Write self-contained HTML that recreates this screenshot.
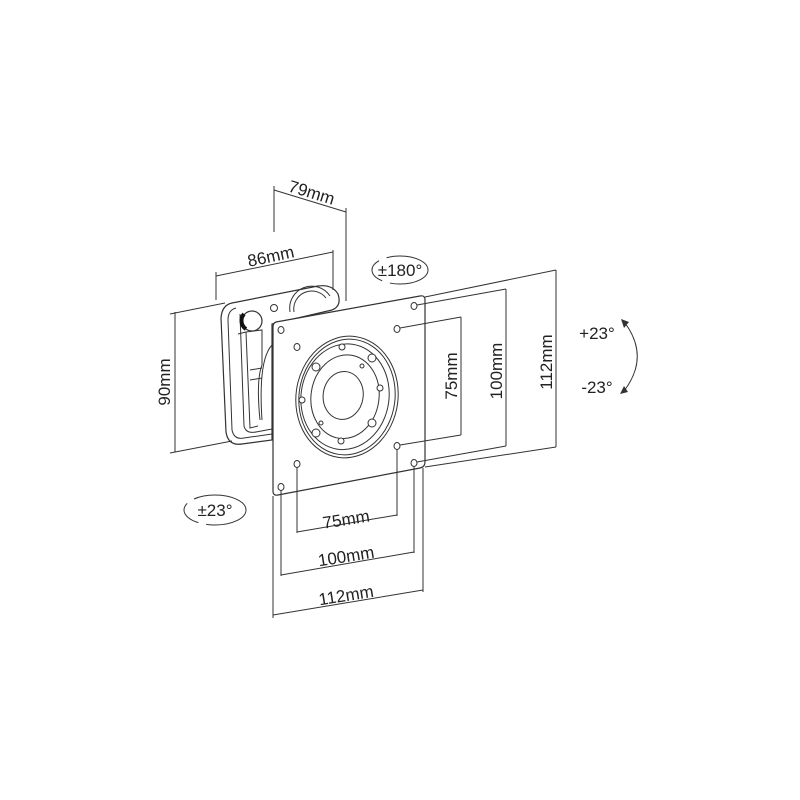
<!DOCTYPE html>
<html><head><meta charset="utf-8"><style>
html,body{margin:0;padding:0;background:#fff;}
svg{display:block;}
text{font-family:"Liberation Sans",sans-serif;font-size:17px;fill:#222;}
</style></head><body>
<svg width="800" height="800" viewBox="0 0 800 800" xmlns="http://www.w3.org/2000/svg">
<g fill="none" stroke="#333" stroke-width="1">
<!-- back bracket -->
<path d="M232,303 Q222,305 221,318 L226,432 Q228,446 242,444 L272,440 L272,324 L332,310 Q342,306 338,294 Q332,284 318,286 Z" fill="#fff" stroke-width="1.2"/>
<path d="M236,308 Q228,310 228,320 L232,430 Q234,440 244,438 L272,434"/>
<path d="M240,314 L244,426 Q246,434 256,432 L272,429"/>
<path d="M238,334 L246,332 L250,428 L258,426"/>
<path d="M246,332 L262,330 L262,365 Q256,380 260,420"/>
<path d="M250,370 L262,368 M250,380 L262,378"/>
<path d="M290,312 A22,22 0 0 1 330,296"/>
<path d="M294,312 A18,18 0 0 1 326,298"/>
<circle cx="274" cy="308" r="3.5"/>
<path d="M272,345 Q258,360 262,420" />
<circle cx="252" cy="321" r="10" fill="#fff" stroke-width="1.2"/>
<path d="M244,314 A10,10 0 0 0 246,329" stroke="#111" stroke-width="4"/>
<!-- plate -->
<path d="M276,322 L420,296 Q425,295 425,300 L425,462 Q425,467 420,468 L278,495 Q273,496 273,491 L273,327 Q273,323 276,322 Z" fill="#fff" stroke-width="1.2"/>
<!-- holes -->
<ellipse cx="281" cy="330" rx="3" ry="3.5"/>
<ellipse cx="297" cy="347" rx="3" ry="3.5"/>
<ellipse cx="414" cy="306" rx="3" ry="3.5"/>
<ellipse cx="397" cy="329" rx="3" ry="3.5"/>
<ellipse cx="397" cy="446" rx="3" ry="3.5"/>
<ellipse cx="414" cy="463" rx="3" ry="3.5"/>
<ellipse cx="297" cy="464" rx="3" ry="3.5"/>
<ellipse cx="281" cy="487" rx="3" ry="3.5"/>
<!-- circular plate -->
<g transform="rotate(8 347 397)">
<ellipse cx="347" cy="397" rx="51" ry="61"/>
<ellipse cx="347" cy="397" rx="48" ry="58"/>
<ellipse cx="345" cy="397" rx="44" ry="53"/>
<ellipse cx="345" cy="397" rx="34" ry="42"/>
<ellipse cx="343" cy="396" rx="20" ry="24"/>
</g>
<g fill="#fff">
<circle cx="342" cy="347" r="3"/><circle cx="372" cy="358" r="4"/><circle cx="316" cy="367" r="4"/>
<circle cx="380" cy="388" r="3"/><circle cx="302" cy="400" r="3"/><circle cx="372" cy="423" r="4"/>
<circle cx="316" cy="433" r="4"/><circle cx="341" cy="441" r="3"/>
<circle cx="362" cy="366" r="2"/><circle cx="321" cy="423" r="2"/>
</g>
<!-- 79mm -->
<path d="M274,186 L274,232 M346,208 L346,301 M274,190 L346,212"/>
<!-- 86mm -->
<path d="M216,272 L216,300 M333,250 L333,290 M216,276 L333,252"/>
<!-- 90mm -->
<path d="M175,312 L175,452 M170,314 L225,303 M170,453 L232,441"/>
<!-- right dims -->
<path d="M400,328 L461,317 M461,317 L461,435 M400,445 L461,435"/>
<path d="M417,305 L506,289 M506,289 L506,446 M417,462 L506,446"/>
<path d="M425,297 L556,270 M556,270 L556,447 M425,467 L556,447"/>
<!-- bottom dims -->
<path d="M297,467 L297,533 M397,449 L397,516 M297,532 L397,515"/>
<path d="M281,490 L281,576 M414,466 L414,553 M281,575 L414,552"/>
<path d="M273,496 L273,618 M423,468 L423,592 M273,615 L423,590"/>
<!-- rotation symbols -->
<ellipse cx="400" cy="270" rx="28" ry="14" stroke-dasharray="44 8 28 8 200"/>
<ellipse cx="215" cy="510" rx="31" ry="15" stroke-dasharray="46 8 28 8 200"/>
<path d="M625,323 Q650,357 624,391"/>
</g>
<g fill="#333">
<path d="M621,319 L629,322 L624,328 Z"/>
<path d="M620,394 L628,392 L624,386 Z"/>
</g>
<text x="310" y="198" transform="rotate(17 310 198)" text-anchor="middle">79mm</text>
<text x="272" y="262" transform="rotate(-12 272 262)" text-anchor="middle">86mm</text>
<text x="400" y="276" text-anchor="middle">±180°</text>
<text x="170" y="382" transform="rotate(-90 170 382)" text-anchor="middle">90mm</text>
<text x="457" y="376" transform="rotate(-90 457 376)" text-anchor="middle">75mm</text>
<text x="502" y="371" transform="rotate(-90 502 371)" text-anchor="middle">100mm</text>
<text x="552" y="362" transform="rotate(-90 552 362)" text-anchor="middle">112mm</text>
<text x="597" y="339" text-anchor="middle">+23°</text>
<text x="597" y="393" text-anchor="middle">-23°</text>
<text x="215" y="516" text-anchor="middle">±23°</text>
<text x="347" y="525" transform="rotate(-9 347 525)" text-anchor="middle">75mm</text>
<text x="347" y="562" transform="rotate(-9 347 562)" text-anchor="middle">100mm</text>
<text x="347" y="601" transform="rotate(-9 347 601)" text-anchor="middle">112mm</text>
</svg>
</body></html>
